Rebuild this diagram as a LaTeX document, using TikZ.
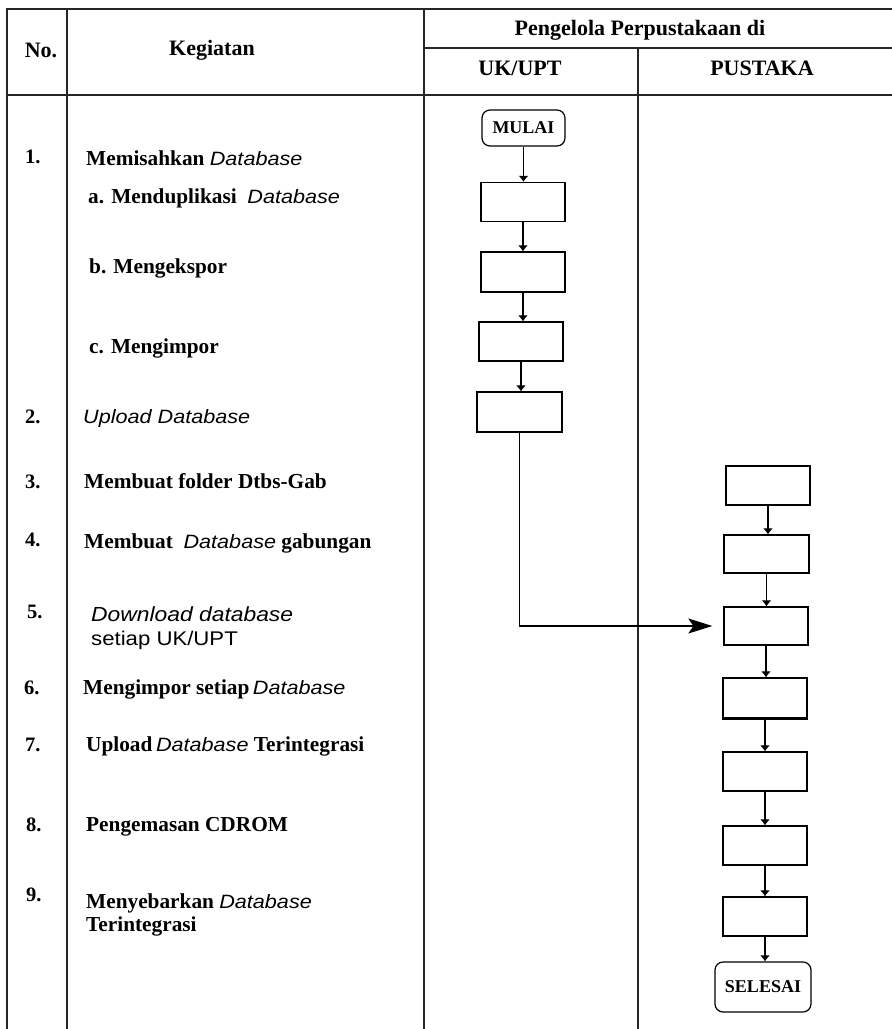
\documentclass[tikz,border=0pt]{standalone}
\usepackage{fontspec}
\setmainfont{Liberation Serif}
\newfontfamily\sansf[FakeStretch=1.12]{Liberation Sans}
\usetikzlibrary{arrows.meta}
% italic sans "Database" used inside the activity texts
\newcommand\dbword[1][Database]{{\sansf\mdseries\itshape\fontsize{19.3}{22}\selectfont #1}}
\begin{document}
\begin{tikzpicture}[x=1pt,y=-1pt,
  gridline/.style={line width=1.6pt, draw=black!85},
  procbox/.style={draw, line width=1.3pt, minimum width=84pt, minimum height=39pt, inner sep=0pt},
  termbox/.style={draw, line width=1.2pt, rounded corners=8pt, inner sep=0pt,
                  font=\bfseries\fontsize{18}{20}\selectfont},
  flow/.style={line width=1.2pt, -{Latex[length=6pt,width=10pt]}},
  numtxt/.style={anchor=base west, inner sep=0pt, font=\bfseries\fontsize{20.5}{24}\selectfont},
  acttxt/.style={anchor=base west, inner sep=0pt, font=\bfseries\fontsize{21.3}{24}\selectfont},
  sanstxt/.style={anchor=base west, inner sep=0pt, font=\sansf\fontsize{19.8}{24}\selectfont},
  headtxt/.style={anchor=base, inner sep=0pt, font=\bfseries\fontsize{22}{24}\selectfont}
]
\useasboundingbox (0,0) rectangle (892,1029);

% table rules
\draw[gridline] (892,9) -- (7,9) -- (7,1029);
\draw[gridline] (67,9) -- (67,1029);
\draw[gridline] (424,9) -- (424,1029);
\draw[gridline] (424,48) -- (892,48);
\draw[gridline] (638,48) -- (638,1029);
\draw[gridline] (7,95) -- (892,95);

% header
\node[headtxt] (hno) at (41,57) {No.};
\node[headtxt] (hkeg) at (212,55) {Kegiatan};
\node[headtxt] (hpeng) at (640,35) {Pengelola Perpustakaan di};
\node[headtxt] (hunit) at (520,75) {UK/UPT};
\node[headtxt] (hpus) at (762,75) {PUSTAKA};

% numbers
\node[numtxt] (n1) at (25,163.5) {1.};
\node[numtxt] (n2) at (25,423.5) {2.};
\node[numtxt] (n3) at (25,488.5) {3.};
\node[numtxt] (n4) at (25,546.5) {4.};
\node[numtxt] (n5) at (27,618.5) {5.};
\node[numtxt] (n6) at (24,694.5) {6.};
\node[numtxt] (n7) at (25,751.5) {7.};
\node[numtxt] (n8) at (26,831.5) {8.};
\node[numtxt] (n9) at (26,901.5) {9.};

% activities
\node[acttxt] (a1) at (86,165.5) {Memisahkan \dbword};
\node[acttxt] (a1a) at (88,203.5) {a. Menduplikasi\ \ \dbword};
\node[acttxt] (a1b) at (89,273.5) {b. Mengekspor};
\node[acttxt] (a1c) at (89,353.5) {c. Mengimpor};
\node[acttxt] (a2) at (83,423.5) {\dbword[Upload Database]};
\node[acttxt] (a3) at (84,488.5) {Membuat folder Dtbs-Gab};
\node[acttxt] (a4) at (84,548.5) {Membuat\ \ \dbword\ gabungan};
\node[sanstxt] (a5) at (91,621.5) {{\itshape\fontsize{20.4}{24}\selectfont Download database}};
\node[sanstxt] (a5b) at (91,645.5) {setiap UK/UPT};
\node[acttxt] (a6) at (83,694.5) {Mengimpor setiap\,\dbword};
\node[acttxt] (a7) at (86,751.5) {Upload\,\dbword\ Terintegrasi};
\node[acttxt] (a8) at (86,831.5) {Pengemasan CDROM};
\node[acttxt] (a9) at (86,908.5) {Menyebarkan \dbword};
\node[acttxt] (a9b) at (86,931.5) {Terintegrasi};

% UK/UPT flow
\node[termbox, minimum width=83pt, minimum height=36pt] (mulai) at (523.5,128) {MULAI};
\node[procbox] (b1) at (523,202) {};
\node[procbox, minimum height=40pt] (b2) at (523,272) {};
\node[procbox] (b3) at (521,341.5) {};
\node[procbox, minimum width=85pt, minimum height=40pt] (b4) at (519.5,412) {};

% PUSTAKA flow
\node[procbox] (p1) at (768,485.5) {};
\node[procbox, minimum width=85pt, minimum height=38pt] (p2) at (766.5,554) {};
\node[procbox, minimum height=38pt] (p3) at (766,626) {};
\node[procbox, minimum height=40pt] (p4) at (765,698) {};
\draw[line width=3pt] (p4.south west) -- (p4.south east);
\node[procbox] (p5) at (765,771.5) {};
\node[procbox] (p6) at (765,845.5) {};
\node[procbox] (p7) at (765,916.5) {};
\node[termbox, minimum width=96pt, minimum height=50pt] (selesai) at (763,987) {SELESAI};

% connectors
\foreach \u/\v in {mulai/b1, b1/b2, b2/b3, b3/b4, p1/p2, p2/p3, p3/p4, p4/p5, p5/p6, p6/p7, p7/selesai}
  \draw[flow] (\u.south) -- (\u.south |- \v.north);
\draw[line width=1.3pt, -{Stealth[length=24pt,width=15pt,inset=5pt]}, shorten >=11pt]
  (b4.south) |- (p3.west);
\end{tikzpicture}
\end{document}
